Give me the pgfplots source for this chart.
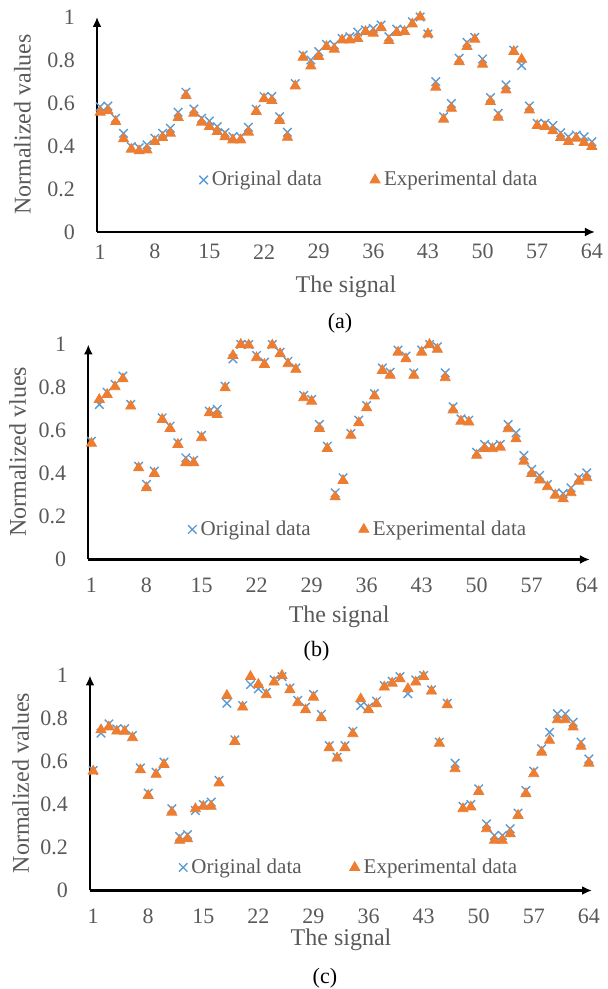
\documentclass[border=0pt]{standalone}
\usepackage{fontspec}
\setmainfont{Liberation Serif}
\usepackage{pgfplots}
\pgfplotsset{compat=1.18}
\usepackage{pgfplotstable}
\usetikzlibrary{arrows.meta}

\definecolor{origblue}{HTML}{5B9BD5}
\definecolor{exporange}{HTML}{ED7D31}
\definecolor{txtgray}{HTML}{595959}

% columns: signal index, original data, experimental data
\pgfplotstableread{
x orig exp
1 0.583 0.557
2 0.586 0.564
3 0.529 0.513
4 0.459 0.433
5 0.397 0.385
6 0.392 0.377
7 0.405 0.381
8 0.436 0.420
9 0.459 0.439
10 0.482 0.459
11 0.557 0.532
12 0.650 0.634
13 0.572 0.552
14 0.529 0.510
15 0.516 0.490
16 0.490 0.467
17 0.462 0.443
18 0.443 0.428
19 0.443 0.428
20 0.487 0.464
21 0.572 0.560
22 0.630 0.619
23 0.630 0.611
24 0.536 0.518
25 0.464 0.440
26 0.690 0.679
27 0.823 0.812
28 0.800 0.772
29 0.839 0.816
30 0.873 0.862
31 0.870 0.850
32 0.900 0.893
33 0.908 0.893
34 0.930 0.900
35 0.940 0.932
36 0.947 0.924
37 0.963 0.950
38 0.908 0.890
39 0.944 0.927
40 0.940 0.932
41 0.978 0.967
42 1.000 1.000
43 0.921 0.921
44 0.699 0.673
45 0.536 0.524
46 0.598 0.575
47 0.808 0.792
48 0.882 0.862
49 0.905 0.896
50 0.805 0.780
51 0.625 0.606
52 0.552 0.533
53 0.684 0.660
54 0.846 0.839
55 0.774 0.803
56 0.586 0.567
57 0.505 0.495
58 0.505 0.490
59 0.495 0.470
60 0.462 0.439
61 0.443 0.420
62 0.451 0.436
63 0.443 0.416
64 0.420 0.397
}\dataA

\pgfplotstableread{
x orig exp
1 0.550 0.540
2 0.721 0.744
3 0.778 0.767
4 0.814 0.803
5 0.853 0.840
6 0.721 0.713
7 0.434 0.426
8 0.349 0.333
9 0.411 0.400
10 0.659 0.651
11 0.620 0.609
12 0.543 0.535
13 0.473 0.450
14 0.462 0.450
15 0.577 0.566
16 0.690 0.682
17 0.698 0.674
18 0.806 0.798
19 0.933 0.949
20 1.000 1.000
21 1.000 0.997
22 0.949 0.938
23 0.918 0.907
24 1.000 0.997
25 0.964 0.957
26 0.922 0.910
27 0.891 0.884
28 0.763 0.752
29 0.744 0.736
30 0.628 0.609
31 0.527 0.516
32 0.310 0.291
33 0.380 0.367
34 0.586 0.577
35 0.648 0.636
36 0.716 0.705
37 0.772 0.760
38 0.891 0.879
39 0.871 0.856
40 0.974 0.964
41 0.946 0.933
42 0.868 0.856
43 0.974 0.964
44 1.000 1.000
45 0.990 0.977
46 0.868 0.845
47 0.710 0.695
48 0.654 0.643
49 0.648 0.639
50 0.499 0.484
51 0.535 0.516
52 0.527 0.515
53 0.535 0.522
54 0.628 0.608
55 0.589 0.561
56 0.484 0.457
57 0.419 0.400
58 0.391 0.369
59 0.349 0.338
60 0.310 0.299
61 0.307 0.282
62 0.333 0.310
63 0.380 0.364
64 0.403 0.380
}\dataB

\pgfplotstableread{
x orig exp
1 0.558 0.555
2 0.732 0.747
3 0.775 0.760
4 0.752 0.741
5 0.752 0.740
6 0.721 0.710
7 0.570 0.561
8 0.453 0.442
9 0.550 0.540
10 0.597 0.586
11 0.380 0.364
12 0.251 0.233
13 0.260 0.240
14 0.372 0.380
15 0.400 0.391
16 0.411 0.391
17 0.512 0.500
18 0.871 0.907
19 0.701 0.693
20 0.860 0.853
21 0.958 0.995
22 0.938 0.958
23 0.922 0.910
24 0.980 0.969
25 0.995 1.000
26 0.942 0.933
27 0.884 0.873
28 0.853 0.840
29 0.912 0.899
30 0.819 0.803
31 0.674 0.664
32 0.620 0.616
33 0.674 0.664
34 0.741 0.729
35 0.860 0.891
36 0.853 0.840
37 0.881 0.868
38 0.953 0.946
39 0.973 0.964
40 0.995 0.984
41 0.915 0.938
42 0.980 0.969
43 1.000 0.995
44 0.933 0.927
45 0.690 0.685
46 0.870 0.864
47 0.592 0.566
48 0.391 0.380
49 0.400 0.388
50 0.473 0.460
51 0.310 0.287
52 0.256 0.233
53 0.256 0.233
54 0.287 0.264
55 0.360 0.349
56 0.465 0.450
57 0.555 0.543
58 0.659 0.643
59 0.736 0.698
60 0.822 0.794
61 0.822 0.794
62 0.783 0.760
63 0.690 0.670
64 0.612 0.592
}\dataC

\pgfplotsset{
  sigpanel/.style={
    scale only axis,
    anchor=south west,
    height=107.5pt,
    xmin=0.6, xmax=64.4,
    ymin=0, ymax=1,
    clip=false,
    axis lines=left,
    axis line style={black, line width=1.1pt, -{Latex[length=5pt,width=4.5pt]}},
    major tick length=0pt,
    xtick={1,8,15,22,29,36,43,50,57,64},
    ytick={0,0.2,0.4,0.6,0.8,1},
    yticklabels={0,0.2,0.4,0.6,0.8,1},
    /pgf/number format/assume math mode=true,
    tick label style={font=\fontsize{11}{13}\selectfont, text=txtgray},
    yticklabel style={anchor=east, xshift=-7.5pt},
    label style={font=\fontsize{12}{14}\selectfont, text=txtgray},
    xlabel={The signal},
    legend columns=2,
    legend style={draw=none, fill=none, anchor=center,
      font=\fontsize{10.5}{12}\selectfont, text=txtgray,
      /tikz/every even column/.append style={column sep=22pt}},
  },
  origmark/.style={only marks, mark=x, mark size=3pt, origblue,
    mark options={line width=0.7pt},
    legend image code/.code={\draw[##1] plot coordinates {(0pt,0pt)};}},
  expmark/.style={only marks, mark=triangle*, mark size=2.9pt, exporange,
    mark options={draw=exporange, fill=exporange},
    legend image code/.code={\draw[##1] plot coordinates {(0pt,0pt)};}},
}

\begin{document}
\begin{tikzpicture}
\useasboundingbox (0,0) rectangle (304pt,494.5pt);

% (a)
\begin{axis}[sigpanel,
  at={(48.5pt,378.5pt)}, width=249pt,
  ylabel={Normalized values},
  ylabel style={at={(axis description cs:-0.15,0.5)}, anchor=center},
  xlabel style={at={(axis description cs:0.5,-0.256)}, anchor=center},
  xticklabel style={anchor=center, yshift=-9.9pt},
  legend style={at={(axis description cs:0.549,0.242)}},
]
\addplot[origmark] table[x=x, y=orig] {\dataA};
\addlegendentry{Original data}
\addplot[expmark] table[x=x, y=exp] {\dataA};
\addlegendentry{Experimental data}
\node[font=\fontsize{11}{13}\selectfont] at (axis description cs:0.488,-0.423) {(a)};
\end{axis}

% (b)
\begin{axis}[sigpanel,
  at={(44.15pt,214.75pt)}, width=250.8pt,
  ylabel={Normalized vlues},
  ylabel style={at={(axis description cs:-0.141,0.5)}, anchor=center},
  xlabel style={at={(axis description cs:0.5,-0.266)}, anchor=center},
  xticklabel style={anchor=center, yshift=-12.75pt},
  legend style={at={(axis description cs:0.54,0.14)}},
]
\addplot[origmark] table[x=x, y=orig] {\dataB};
\addlegendentry{Original data}
\addplot[expmark] table[x=x, y=exp] {\dataB};
\addlegendentry{Experimental data}
\node[font=\fontsize{11}{13}\selectfont] at (axis description cs:0.455,-0.428) {(b)};
\end{axis}

% (c)
\begin{axis}[sigpanel,
  at={(45pt,49.25pt)}, width=251pt,
  ylabel={Normalized values},
  ylabel style={at={(axis description cs:-0.138,0.5)}, anchor=center},
  xlabel style={at={(axis description cs:0.5,-0.227)}, anchor=center},
  xticklabel style={anchor=center, yshift=-13.1pt},
  legend style={at={(axis description cs:0.518,0.107)}},
]
\addplot[origmark] table[x=x, y=orig] {\dataC};
\addlegendentry{Original data}
\addplot[expmark] table[x=x, y=exp] {\dataC};
\addlegendentry{Experimental data}
\node[font=\fontsize{11}{13}\selectfont] at (axis description cs:0.468,-0.407) {(c)};
\end{axis}
\end{tikzpicture}
\end{document}
